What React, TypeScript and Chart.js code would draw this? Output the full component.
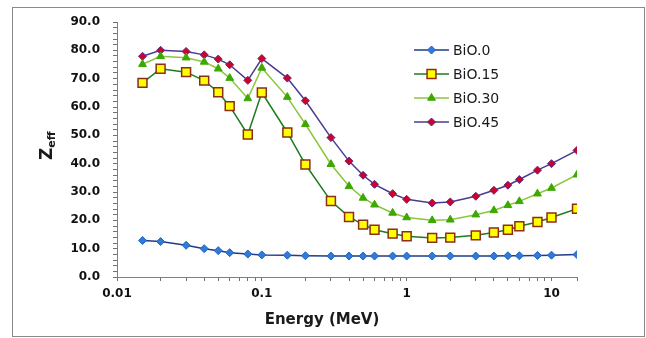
import React, { useEffect, useRef } from "react";
import { Chart, registerables } from "chart.js";
import { drawPoint } from "chart.js/helpers";

Chart.register(...registerables);

const energies = [0.015, 0.02, 0.03, 0.04, 0.05, 0.06, 0.08, 0.1, 0.15, 0.2, 0.3, 0.4, 0.5, 0.6, 0.8, 1, 1.5, 2, 3, 4, 5, 6, 8, 10, 15];
const seriesNames = ["BiO.0", "BiO.15", "BiO.30", "BiO.45"];
const bi00 = [12.9, 12.5, 11.2, 10.0, 9.3, 8.6, 8.1, 7.8, 7.7, 7.5, 7.4, 7.4, 7.4, 7.4, 7.4, 7.4, 7.4, 7.4, 7.4, 7.4, 7.5, 7.5, 7.6, 7.7, 7.9];
const bi15 = [68.5, 73.5, 72.3, 69.3, 65.2, 60.3, 50.3, 65.1, 51.0, 39.7, 26.8, 21.2, 18.5, 16.7, 15.3, 14.4, 13.8, 13.9, 14.7, 15.7, 16.7, 17.9, 19.4, 21.0, 24.1];
const bi30 = [75.1, 77.9, 77.4, 75.9, 73.5, 70.2, 63.0, 73.8, 63.5, 53.9, 39.8, 32.0, 27.9, 25.5, 22.6, 21.0, 20.0, 20.2, 22.0, 23.5, 25.3, 26.7, 29.4, 31.4, 36.1];
const bi45 = [77.9, 80.0, 79.6, 78.4, 76.9, 74.9, 69.4, 77.1, 70.2, 62.2, 49.2, 40.9, 35.9, 32.7, 29.4, 27.4, 26.1, 26.5, 28.5, 30.6, 32.4, 34.4, 37.7, 40.0, 44.7];
const xTickLabels = [0.01, 0.1, 1, 10];
const xMin = 0.01;
const xMax = 15;
const yMin = 0;
const yMax = 90;

const styles = [
  { line: "#1F3C88", fill: "#2F7BD8", border: "#2463BF", shape: "rectRot", r: 4, bw: 1 },
  { line: "#1E7B1E", fill: "#FFFF00", border: "#8B2E14", shape: "rect", r: 6.3, bw: 1.5 },
  { line: "#8CC63F", fill: "#3DA800", border: "#3DA800", shape: "triangle", r: 4.5, bw: 1 },
  { line: "#4B3B8F", fill: "#D0002A", border: "#5A2D82", shape: "rectRot", r: 4, bw: 1 },
];

const allValues = [bi00, bi15, bi30, bi45];

const decorPlugin = {
  id: "decor",
  beforeDraw(chart: any) {
    const ctx = chart.ctx;
    ctx.save();
    ctx.fillStyle = "#ffffff";
    ctx.fillRect(0, 0, chart.width, chart.height);
    ctx.strokeStyle = "#8a8a8a";
    ctx.lineWidth = 1;
    ctx.strokeRect(12.5, 7.5, 632, 329);
    ctx.restore();
  },
  afterDraw(chart: any) {
    const ctx = chart.ctx;
    ctx.save();
    chart.data.datasets.forEach((ds: any, i: number) => {
      const y = 50 + 24 * i;
      ctx.strokeStyle = ds.borderColor;
      ctx.lineWidth = 1.5;
      ctx.beginPath();
      ctx.moveTo(414, y);
      ctx.lineTo(449, y);
      ctx.stroke();
      ctx.fillStyle = ds.pointBackgroundColor;
      ctx.strokeStyle = ds.pointBorderColor;
      ctx.lineWidth = ds.pointBorderWidth;
      drawPoint(ctx, { pointStyle: ds.pointStyle, radius: ds.pointRadius, rotation: 0, borderWidth: ds.pointBorderWidth } as any, 431.5, y);
      ctx.fillStyle = "#1a1a1a";
      ctx.font = "14px 'DejaVu Sans'";
      ctx.textAlign = "left";
      ctx.textBaseline = "middle";
      ctx.fillText(ds.label, 453, y + 1);
    });
    ctx.fillStyle = "#1a1a1a";
    ctx.font = "bold 15px 'DejaVu Sans'";
    ctx.textAlign = "center";
    ctx.textBaseline = "middle";
    ctx.fillText("Energy (MeV)", 322, 320);
    ctx.translate(48, 149);
    ctx.rotate(-Math.PI / 2);
    ctx.textAlign = "left";
    ctx.textBaseline = "middle";
    ctx.font = "bold 17px 'DejaVu Sans'";
    ctx.fillText("Z", -11, 0);
    const zw = ctx.measureText("Z").width;
    ctx.font = "bold 11px 'DejaVu Sans'";
    ctx.fillText("eff", -11 + zw, 4);
    ctx.restore();
  },
};

const isDecadeStep = (v: number) => {
  const e = Math.floor(Math.log10(v) + 1e-9);
  const m = v / Math.pow(10, e);
  return Math.abs(m - Math.round(m)) < 1e-6;
};

export default function App() {
  const ref = useRef<HTMLCanvasElement | null>(null);
  useEffect(() => {
    if (!ref.current) return;
    const datasets = allValues.map((vals, i) => ({
      label: seriesNames[i],
      data: energies.map((e, j) => ({ x: e, y: vals[j] })),
      borderColor: styles[i].line,
      borderWidth: 1.5,
      backgroundColor: styles[i].fill,
      pointBackgroundColor: styles[i].fill,
      pointBorderColor: styles[i].border,
      pointBorderWidth: styles[i].bw,
      pointStyle: styles[i].shape,
      pointRadius: styles[i].r,
      tension: 0,
      fill: false,
    }));
    const gridOpts = {
      display: true,
      drawOnChartArea: false,
      drawTicks: true,
      tickLength: 4,
      color: "#707070",
      lineWidth: 1,
      tickColor: "#707070",
      tickWidth: 1,
    };
    const chart = new Chart(ref.current, {
      type: "line",
      data: { datasets },
      options: {
        animation: false,
        responsive: false,
        devicePixelRatio: 1,
        layout: { padding: { left: 0, right: 69, top: 22, bottom: 0 } },
        plugins: { legend: { display: false }, tooltip: { enabled: false } },
        scales: {
          x: {
            type: "logarithmic",
            min: xMin,
            max: xMax,
            afterFit: (s: any) => { s.height = 61; },
            afterBuildTicks: (s: any) => {
              s.ticks = s.ticks.filter((t: any) => isDecadeStep(t.value) || t.value === xMax);
            },
            border: { display: true, color: "#808080", width: 1 },
            grid: gridOpts,
            ticks: {
              autoSkip: false,
              maxRotation: 0,
              padding: 6,
              color: "#111",
              font: { family: "'DejaVu Sans'", size: 12, weight: "bold" },
              callback: (v: any) => {
                const n = Number(v);
                return xTickLabels.some((t) => Math.abs(t - n) / t < 1e-6) ? String(n) : "";
              },
            },
          },
          y: {
            type: "linear",
            min: yMin,
            max: yMax,
            afterFit: (s: any) => { s.width = 117; },
            border: { display: true, color: "#808080", width: 1 },
            grid: gridOpts,
            ticks: {
              stepSize: 2,
              autoSkip: false,
              padding: 13,
              color: "#111",
              font: { family: "'DejaVu Sans'", size: 12, weight: "bold" },
              callback: (v: any) => (Number(v) % 10 === 0 ? Number(v).toFixed(1) : ""),
            },
          },
        },
      },
      plugins: [decorPlugin],
    });
    return () => chart.destroy();
  }, []);
  return (
    <div style={{ position: "absolute", left: 0, top: 0, width: 646, height: 338 }}>
      <canvas ref={ref} width={646} height={338} style={{ width: 646, height: 338, display: "block" }} />
    </div>
  );
}
